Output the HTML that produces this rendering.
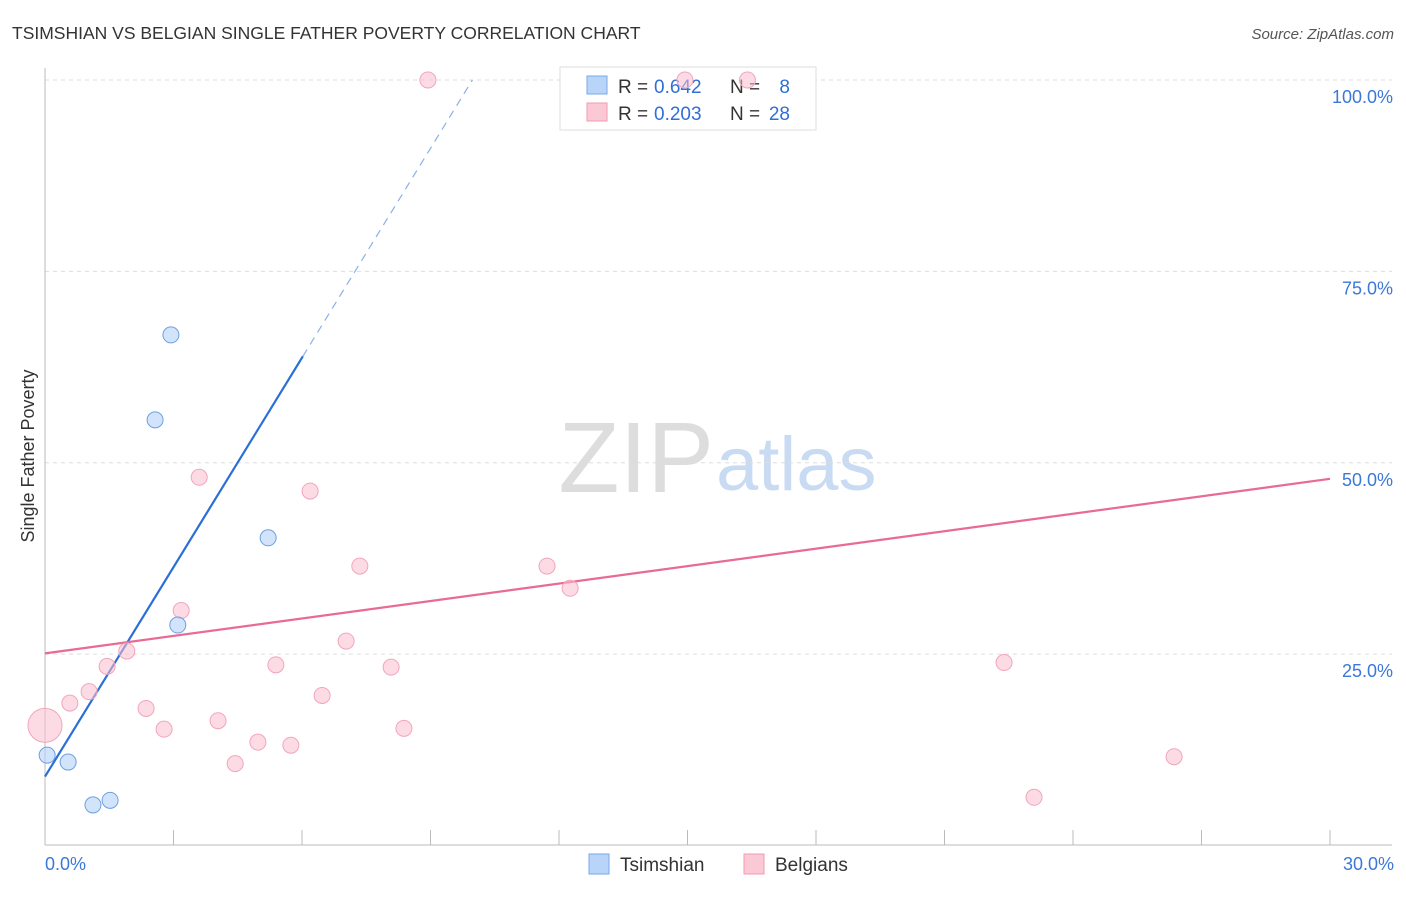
<!DOCTYPE html>
<html><head><meta charset="utf-8"><style>
body{margin:0;background:#fff;font-family:"Liberation Sans",sans-serif;}
svg text{font-family:"Liberation Sans",sans-serif;}
</style></head><body>
<svg id="chart" width="1406" height="892">
<text x="12" y="39" font-size="17.5" fill="#333">TSIMSHIAN VS BELGIAN SINGLE FATHER POVERTY CORRELATION CHART</text>
<text x="1394" y="39" font-size="15" fill="#555" font-style="italic" text-anchor="end">Source: ZipAtlas.com</text>
<text x="714" y="492" font-size="100" fill="#ddd" text-anchor="end" font-family="Liberation Serif,serif">ZIP</text>
<text x="716" y="490" font-size="76" fill="#c9daf3">atlas</text>
<text transform="translate(34,456) rotate(-90)" font-size="18" fill="#333" text-anchor="middle">Single Father Poverty</text>
<g id="grid"></g>
<g>
<rect x="560" y="67" width="256" height="63" fill="#fff" stroke="#ddd"/>
<rect x="587" y="76" width="20" height="18" fill="#b8d4f8" stroke="#7aa8e8"/>
<text x="618" y="93" font-size="19" fill="#333">R =</text>
<text x="654" y="93" font-size="19" fill="#2f6fd6">0.642</text>
<text x="730" y="93" font-size="19" fill="#333">N =</text>
<text x="790" y="93" font-size="19" fill="#2f6fd6" text-anchor="end">8</text>
<rect x="587" y="103" width="20" height="18" fill="#fbc8d6" stroke="#f09ab3"/>
<text x="618" y="120" font-size="19" fill="#333">R =</text>
<text x="654" y="120" font-size="19" fill="#2f6fd6">0.203</text>
<text x="730" y="120" font-size="19" fill="#333">N =</text>
<text x="790" y="120" font-size="19" fill="#2f6fd6" text-anchor="end">28</text>
</g>
<g id="lines"></g><g id="pts"></g>
<g>
<rect x="589" y="854" width="20" height="20" fill="#b8d4f8" stroke="#7aa8e8"/>
<text x="620" y="871" font-size="19" fill="#333">Tsimshian</text>
<rect x="744" y="854" width="20" height="20" fill="#fbc8d6" stroke="#f09ab3"/>
<text x="775" y="871" font-size="19" fill="#333">Belgians</text>
</g>
</svg>
<script>
const blueX=[0.05,0.54,1.12,1.52,2.57,2.94,3.10,5.21];
const blueY=[11.8,10.9,5.3,5.9,55.6,66.7,28.8,40.2];
const pinkX=[0,0.58,1.03,1.45,1.91,2.36,2.78,3.18,3.6,4.04,4.44,4.97,5.39,5.74,6.19,6.47,7.03,7.35,8.08,8.38,8.94,11.72,12.26,14.94,16.4,22.39,23.09,26.36];
const pinkY=[15.7,18.6,20.1,23.4,25.4,17.9,15.2,30.7,48.1,16.3,10.7,13.5,23.6,13.1,46.3,19.6,26.7,36.5,23.3,15.3,100,36.5,33.6,100,100,23.9,6.3,11.6];
const blueTrend=[9.0,9.12];
const pinkTrend=[25.1,0.76];
const yTicks=[25,50,75,100];
const yTickLabels=["25.0%","50.0%","75.0%","100.0%"];
const xTickLabels=["0.0%","30.0%"];
const NS="http://www.w3.org/2000/svg";
const X=v=>45+v/30*1285, Y=v=>845.5-v*7.655;
function mk(parent,tag,attrs){const e=document.createElementNS(NS,tag);for(const k in attrs)e.setAttribute(k,attrs[k]);document.getElementById(parent).appendChild(e);return e;}
yTicks.forEach((t,i)=>{
 const l=mk('grid','line',{x1:45,x2:1392,y1:Y(t),y2:Y(t),stroke:'#ddd','stroke-dasharray':'4,4'});
 
 
 const tx=mk('grid','text',{x:1393,y:Y(t)+23,'font-size':18,fill:'#3b78d8','text-anchor':'end'});tx.textContent=yTickLabels[i];
 
 
});
const ax=mk('grid','line',{x1:45,x2:1392,y1:845,y2:845,stroke:'#bbb'});


const ay=mk('grid','line',{x1:45,x2:45,y1:68,y2:845,stroke:'#bbb'});


for(let i=0;i<=10;i++){const t=mk('grid','line',{x1:X(i*3),x2:X(i*3),y1:845,y2:830,stroke:'#bbb'});
 
 }
[[0,'start',45],[30,'end',1394]].forEach((d,i)=>{const t=mk('grid','text',{x:d[2],y:870,'font-size':18,fill:'#3b78d8','text-anchor':d[1]});t.textContent=xTickLabels[i];
 
 });
const bEnd=6.02, bDash=(100-blueTrend[0])/blueTrend[1];
let l1=mk('lines','line',{x1:X(0),y1:Y(blueTrend[0]),x2:X(bEnd),y2:Y(blueTrend[0]+blueTrend[1]*bEnd),stroke:'#2a6fd6','stroke-width':2.2});


let l2=mk('lines','line',{x1:X(bEnd),y1:Y(blueTrend[0]+blueTrend[1]*bEnd),x2:X(bDash),y2:Y(100),stroke:'#8ab0e8','stroke-width':1.2,'stroke-dasharray':'8,6'});


let l3=mk('lines','line',{x1:X(0),y1:Y(pinkTrend[0]),x2:X(30),y2:Y(pinkTrend[0]+pinkTrend[1]*30),stroke:'#e86a95','stroke-width':2.2});


pinkX.forEach((v,i)=>{const c=mk('pts','circle',{cx:X(v),cy:Y(pinkY[i]),r:i==0?17:8,fill:'rgba(250,190,208,0.55)',stroke:'#f2a5bd','stroke-width':1});
 
 });
blueX.forEach((v,i)=>{const c=mk('pts','circle',{cx:X(v),cy:Y(blueY[i]),r:8,fill:'rgba(180,210,248,0.6)',stroke:'#6d9fe0','stroke-width':1});
 
 });
</script>
</body></html>
